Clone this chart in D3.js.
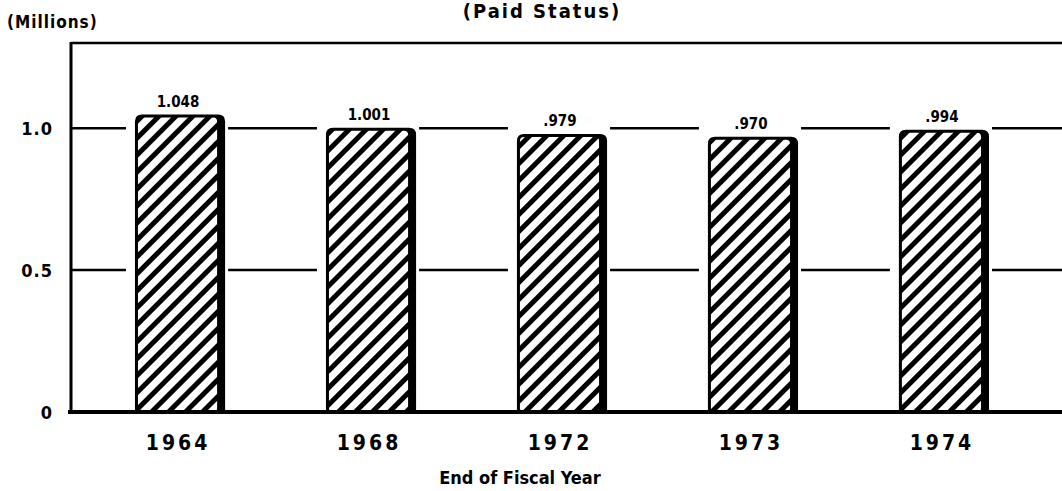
<!DOCTYPE html>
<html>
<head>
<meta charset="utf-8">
<script src="https://cdn.jsdelivr.net/npm/d3@7"></script>
<style>
  body { margin: 0; background: #fff; }
  svg { display: block; }
  text { font-family: "DejaVu Sans Condensed", "DejaVu Sans", sans-serif; font-weight: bold; fill: #000; }
</style>
</head>
<body>
<div id="chart"></div>
<script>
// Data
const years = ['1964', '1968', '1972', '1973', '1974'];
const values = [1.048, 1.001, 0.979, 0.970, 0.994];
const valueLabels = ['1.048', '1.001', '.979', '.970', '.994'];
const yTicks = [0, 0.5, 1.0];
const yTickLabels = ['0', '0.5', '1.0'];

const width = 1062, height = 491;
const margin = { left: 71, top: 43, right: 0, bottom: 79 };
const baseY = height - margin.bottom;   // 412

const svg = d3.select('#chart')
    .append('svg')
    .attr('width', width)
    .attr('height', height);

// Hatch pattern
const defs = svg.append('defs');
const pat = defs.append('pattern')
    .attr('id', 'hatch')
    .attr('patternUnits', 'userSpaceOnUse')
    .attr('width', 12)
    .attr('height', 12)
    .attr('patternTransform', 'rotate(45)');
pat.append('rect').attr('width', 12).attr('height', 12).attr('fill', '#fff');
pat.append('rect').attr('x', 0).attr('width', 5).attr('height', 12).attr('fill', '#000');

const y = d3.scaleLinear()
    .domain([0, 1.3])
    .range([baseY, margin.top]);

const x = d3.scaleBand()
    .domain(years)
    .range([margin.left, 1045])
    .paddingInner(0.57)
    .paddingOuter(0.335);

// Gridlines
svg.append('g')
    .selectAll('line')
    .data(yTicks.filter(d => d > 0))
    .join('line')
    .attr('x1', margin.left)
    .attr('x2', width)
    .attr('y1', d => y(d))
    .attr('y2', d => y(d))
    .attr('stroke', '#000')
    .attr('stroke-width', 2.5);

// Frame: left and top
svg.append('line')
    .attr('x1', margin.left).attr('x2', margin.left)
    .attr('y1', margin.top - 1).attr('y2', baseY)
    .attr('stroke', '#000').attr('stroke-width', 3);
svg.append('line')
    .attr('x1', margin.left).attr('x2', width)
    .attr('y1', margin.top).attr('y2', margin.top)
    .attr('stroke', '#000').attr('stroke-width', 2.5);

// Bars
const bars = svg.append('g')
    .selectAll('g')
    .data(years.map((yr, i) => ({ year: yr, value: values[i], label: valueLabels[i] })))
    .join('g');

const bw = x.bandwidth();
const shadow = 8;

// white gap behind each bar and its label, to break the gridlines
bars.append('rect')
    .attr('x', d => x(d.year) - 9)
    .attr('y', d => y(d.value) - 26)
    .attr('width', bw + shadow + 12)
    .attr('height', d => baseY - y(d.value) + 26)
    .attr('fill', '#fff');

// black body with rounded top (gives thick right side)
bars.append('path')
    .attr('d', d => {
        const x0 = x(d.year), x1 = x0 + bw + shadow;
        const t = y(d.value), r = 7;
        return `M${x0},${baseY} L${x0},${t + r} Q${x0},${t} ${x0 + r},${t} L${x1 - r},${t} Q${x1},${t} ${x1},${t + r} L${x1},${baseY} Z`;
    })
    .attr('fill', '#000');

// hatched face
bars.append('rect')
    .attr('x', d => x(d.year) + 3)
    .attr('y', d => y(d.value) + 3)
    .attr('width', bw - 3)
    .attr('height', d => baseY - y(d.value) - 3)
    .attr('rx', 4)
    .attr('fill', 'url(#hatch)');

// value labels
bars.append('text')
    .attr('x', d => x(d.year) + bw / 2 + 2)
    .attr('y', d => y(d.value) - 8)
    .attr('text-anchor', 'middle')
    .attr('font-size', 15)
    .text(d => d.label);

// Baseline
svg.append('line')
    .attr('x1', margin.left - 3).attr('x2', width)
    .attr('y1', baseY).attr('y2', baseY)
    .attr('stroke', '#000').attr('stroke-width', 4);

// Y tick labels
svg.append('g')
    .selectAll('text')
    .data(yTicks)
    .join('text')
    .attr('x', 53)
    .attr('y', d => y(d) + 7)
    .attr('text-anchor', 'end')
    .attr('font-size', 18)
    .attr('letter-spacing', 1)
    .text((d, i) => yTickLabels[i]);

// X tick labels
svg.append('g')
    .selectAll('text')
    .data(years)
    .join('text')
    .attr('x', d => x(d) + bw / 2 + 2)
    .attr('y', 450)
    .attr('text-anchor', 'middle')
    .attr('font-size', 21)
    .attr('letter-spacing', 3)
    .text(d => d);

// Axis titles
svg.append('text')
    .attr('x', 520).attr('y', 484)
    .attr('text-anchor', 'middle')
    .attr('font-size', 18)
    .text('End of Fiscal Year');

svg.append('text')
    .attr('x', 7).attr('y', 28)
    .attr('font-size', 17)
    .attr('letter-spacing', 1)
    .text('(Millions)');

svg.append('text')
    .attr('x', 542).attr('y', 18)
    .attr('text-anchor', 'middle')
    .attr('font-size', 20)
    .attr('letter-spacing', 2)
    .text('(Paid Status)');
</script>
</body>
</html>
